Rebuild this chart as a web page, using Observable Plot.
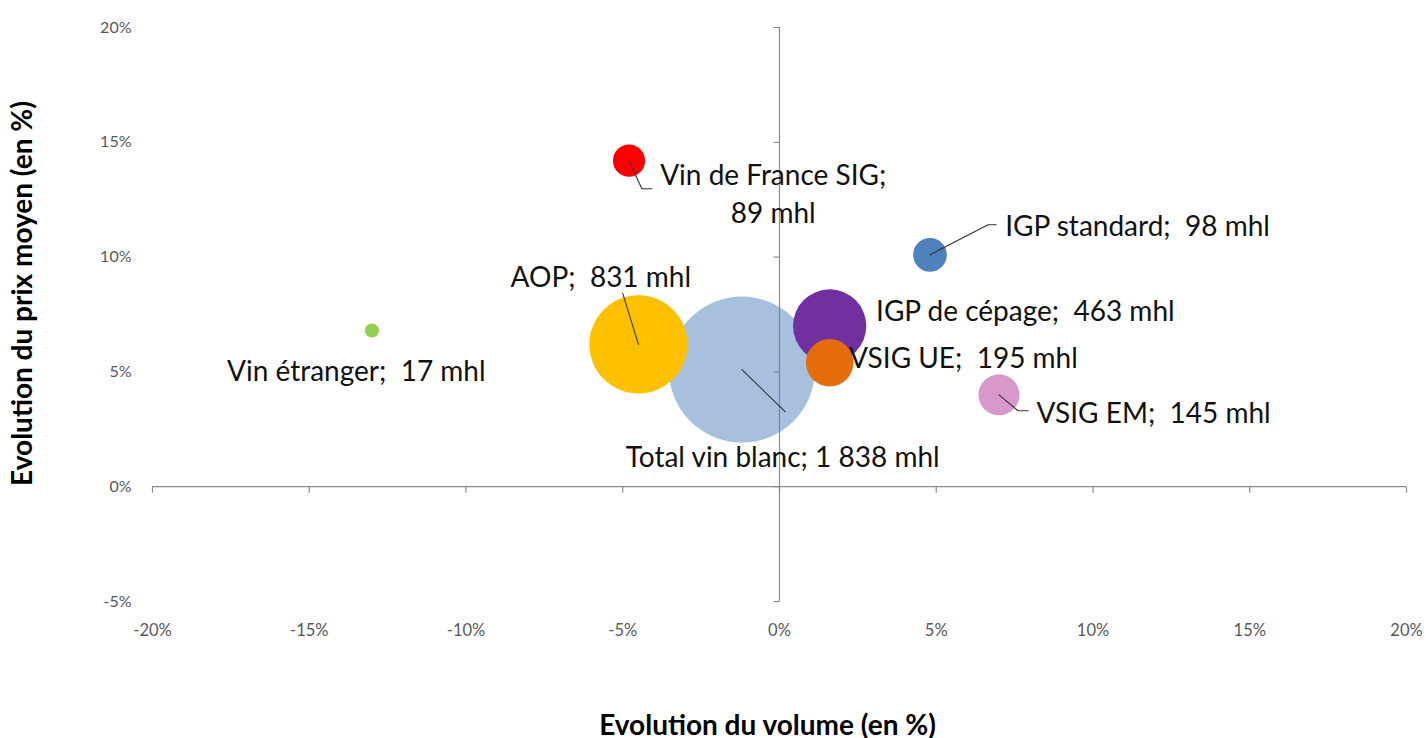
<!DOCTYPE html>
<html>
<head>
<meta charset="utf-8">
<script src="https://cdn.jsdelivr.net/npm/d3@7"></script>
<script src="https://cdn.jsdelivr.net/npm/@observablehq/plot@0.6"></script>
<style>
  html, body { margin: 0; padding: 0; background: #fff; }
  svg text { white-space: pre; }
</style>
</head>
<body>
<div id="chart"></div>
<script>
// ---- Data ----
const names = ["Vin de France SIG", "IGP standard", "Vin étranger", "AOP", "IGP de cépage", "VSIG UE", "VSIG EM", "Total vin blanc"];
const volumeChange = [-4.8, 4.8, -13.0, -4.5, 1.6, 1.6, 7.0, -1.2];   // % (x)
const priceChange  = [14.2, 10.1, 6.8, 6.2, 7.0, 5.4, 4.0, 5.1];      // % (y)
const volumes      = [89, 98, 17, 831, 463, 195, 145, 1838];           // mhl (bubble size)
const colors       = ["#ff0000", "#4f81bd", "#92d050", "#ffc000", "#7030a0", "#e46c0a", "#d998cb", "#4f81bd"];
const opacities    = [1, 1, 1, 1, 1, 1, 1, 0.5];

// label placement (data units) and leader-line elbows
const labelX      = [-0.2, 7.2, -13.5, -5.7, 3.08, 2.22, 8.2, 0.1];
const labelY      = [12.85, 11.32, 5.14, 9.23, 7.62, 5.57, 3.18, 1.39];
const labelAnchor = ["middle", "start", "middle", "middle", "start", "start", "start", "middle"];
const leaderElbowX = [-4.39, 6.65, null, -5.0, null, null, 7.61, 0.18];
const leaderElbowY = [12.98, 11.41, null, 8.42, null, null, 3.31, 3.27];
const leaderEndX   = [-4.07, 6.91, null, -5.0, null, null, 7.93, 0.18];

const xTicks = [-20, -15, -10, -5, 0, 5, 10, 15, 20];
const yTicks = [-5, 0, 5, 10, 15, 20];
const xTitle = "Evolution du volume (en %)";
const yTitle = "Evolution du prix moyen (en %)";

// ---- Build tables ----
const fr = d3.formatLocale({decimal: ",", thousands: "\u00a0", grouping: [3], currency: ["", ""]});
const fmtVol = fr.format(",");
const rows = names.map((n, i) => ({
  name: n, x: volumeChange[i], y: priceChange[i], v: volumes[i], color: colors[i], op: opacities[i],
  lx: labelX[i], ly: labelY[i], anchor: labelAnchor[i],
  text: (i === 0 ? n + ";\n" + fmtVol(volumes[i]) + " mhl"
        : n + ";" + (volumes[i] >= 1000 ? "\u00a0" : "\u00a0\u00a0") + fmtVol(volumes[i]) + " mhl")
}));
const leaders = [];
rows.forEach((r, i) => {
  if (leaderElbowX[i] == null) return;
  leaders.push({id: r.name, x: r.x, y: r.y});
  leaders.push({id: r.name, x: leaderElbowX[i], y: leaderElbowY[i]});
  leaders.push({id: r.name, x: leaderEndX[i], y: leaderElbowY[i]});
});

const tickDown = {draw(ctx) { ctx.moveTo(0, 0); ctx.lineTo(0, 6); }};
const tickLeft = {draw(ctx) { ctx.moveTo(0, 0); ctx.lineTo(-6, 0); }};
const axisColor = "#8c8c8c";
const font = "Lato, 'Open Sans', sans-serif";

const chart = Plot.plot({
  width: 1426,
  height: 738,
  marginLeft: 152,
  marginRight: 20,
  marginTop: 27,
  marginBottom: 137,
  x: {domain: [-20, 20], axis: null},
  y: {domain: [-5, 20], axis: null},
  r: {domain: [0, 1838], range: [0, 73]},
  style: {fontFamily: font, background: "#fff", overflow: "visible"},
  marks: [
    // axis lines crossing at 0
    Plot.ruleY([0], {x1: -20, x2: 20, stroke: axisColor, strokeWidth: 1.2}),
    Plot.ruleX([0], {y1: -5, y2: 20, stroke: axisColor, strokeWidth: 1.2}),
    Plot.dot(xTicks, {x: d => d, y: () => 0, symbol: tickDown, r: 6, stroke: axisColor, strokeWidth: 1.2, fill: "none"}),
    Plot.dot(yTicks, {x: () => 0, y: d => d, symbol: tickLeft, r: 6, stroke: axisColor, strokeWidth: 1.2, fill: "none"}),
    // tick labels
    Plot.text(xTicks, {x: d => d, frameAnchor: "bottom", dy: 29, text: d => d + "%", fontSize: 16.5, fill: "#595959", lineAnchor: "middle"}),
    Plot.text(yTicks, {y: d => d, frameAnchor: "left", dx: -21, textAnchor: "end", text: d => d + "%", fontSize: 16, fill: "#595959", lineAnchor: "middle"}),
    // bubbles
    Plot.dot(rows, {x: "x", y: "y", r: "v", fill: "color", fillOpacity: "op", stroke: "none"}),
    // leader lines
    Plot.line(leaders, {x: "x", y: "y", z: "id", stroke: "#333", strokeWidth: 1.1}),
    // data labels
    Plot.text(rows.filter(r => r.anchor === "middle"), {x: "lx", y: "ly", text: "text", textAnchor: "middle", fontSize: 28, fill: "#111", lineHeight: 1.35}),
    Plot.text(rows.filter(r => r.anchor === "start"), {x: "lx", y: "ly", text: "text", textAnchor: "start", fontSize: 28, fill: "#111"}),
    // axis titles
    Plot.text([xTitle], {frameAnchor: "bottom", dy: 133, dx: -12, text: d => d, textAnchor: "middle", fontSize: 28, fontWeight: "bold", fill: "#000"}),
    Plot.text([yTitle], {frameAnchor: "left", dx: -129, dy: -21, rotate: -90, text: d => d, textAnchor: "middle", fontSize: 28, fontWeight: "bold", fill: "#000"})
  ]
});
document.getElementById("chart").appendChild(chart);
</script>
</body>
</html>
